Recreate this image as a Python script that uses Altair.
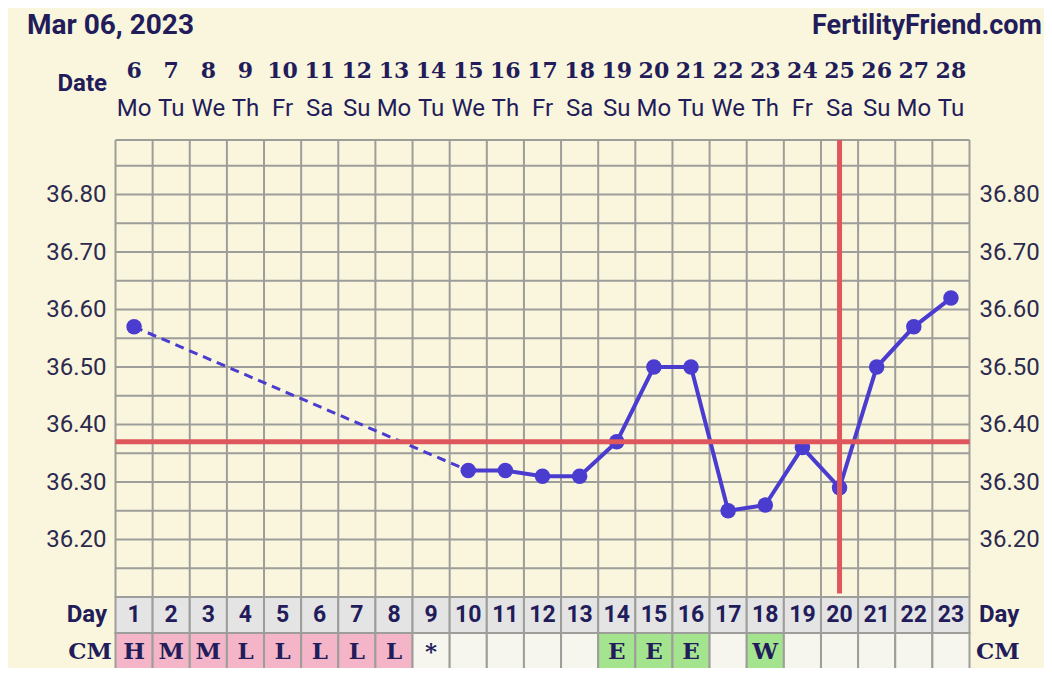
import altair as alt
import pandas as pd

# ---------------- data ----------------
cycle_days = list(range(1, 24))
dates = [6, 7, 8, 9, 10, 11, 12, 13, 14, 15, 16, 17, 18, 19, 20, 21, 22, 23, 24, 25, 26, 27, 28]
weekdays = ["Mo", "Tu", "We", "Th", "Fr", "Sa", "Su", "Mo", "Tu", "We", "Th", "Fr",
            "Sa", "Su", "Mo", "Tu", "We", "Th", "Fr", "Sa", "Su", "Mo", "Tu"]
temps = [36.57, None, None, None, None, None, None, None, None, 36.32, 36.32, 36.31,
         36.31, 36.37, 36.50, 36.50, 36.25, 36.26, 36.36, 36.29, 36.50, 36.57, 36.62]
cm_codes = ["H", "M", "M", "L", "L", "L", "L", "L", "*", "", "", "", "",
            "E", "E", "E", "", "W", "", "", "", "", ""]
coverline = 36.37
ovulation_day = 20
y_ticks = [36.20, 36.30, 36.40, 36.50, 36.60, 36.70, 36.80]
grid_levels = [36.10, 36.15, 36.20, 36.25, 36.30, 36.35, 36.40, 36.45, 36.50,
               36.55, 36.60, 36.65, 36.70, 36.75, 36.80, 36.85, 36.895]
t_min, t_max = 36.10, 36.895

# ---------------- style ----------------
W, H = 1036, 660
BG = "#faf6dd"
NAVY = "#221c5a"
LABEL = "#2c2a4e"
GRID = "#9d9d9a"
LINE = "#4a3ccf"
RED = "#de575c"

first, last = cycle_days[0], cycle_days[-1]
x_scale = alt.Scale(domain=[first - 0.5, last + 0.5], range=[107.5, 961.5], nice=False, zero=False)
t_scale = alt.Scale(domain=[t_min, t_max], range=[589, 132], nice=False, zero=False)
row_scale = alt.Scale(domain=["Day", "CM", "Extra"], range=[589, 697], paddingInner=0, paddingOuter=0)
head_scale = alt.Scale(domain=["date", "weekday"], range=[63, 101], padding=0)


def kind_of(c):
    if c in ("H", "M", "L"):
        return "pink"
    if c in ("E", "W"):
        return "green"
    return "none"


days_df = pd.DataFrame({"day": cycle_days, "date": dates, "weekday": weekdays,
                        "cm": cm_codes, "temp": temps})
days_df["x0"] = days_df["day"] - 0.5
days_df["x1"] = days_df["day"] + 0.5
days_df["kind"] = [kind_of(c) for c in cm_codes]

rec = days_df.dropna(subset=["temp"]).reset_index(drop=True)
dashed_df = rec.iloc[0:2]
solid_df = rec.iloc[1:]

hgrid_df = pd.DataFrame({"t": grid_levels, "x0": first - 0.5, "x1": last + 0.5})
bounds = [d - 0.5 for d in cycle_days] + [last + 0.5]
vgrid_df = pd.DataFrame({"x": bounds, "t0": t_min, "t1": t_max})
cover_df = pd.DataFrame({"t": [coverline], "x0": [first - 0.5], "x1": [last + 0.5]})
ov_df = pd.DataFrame({"x": [ovulation_day], "t0": [t_max], "t1": [t_min + 0.006]})

table_rows = []
for _, r in days_df.iterrows():
    table_rows.append({"day": r.day, "x0": r.x0, "x1": r.x1, "row": "Day", "kind": "day"})
    table_rows.append({"day": r.day, "x0": r.x0, "x1": r.x1, "row": "CM", "kind": r.kind})
    table_rows.append({"day": r.day, "x0": r.x0, "x1": r.x1, "row": "Extra", "kind": r.kind + "_light"})
table_df = pd.DataFrame(table_rows)

kind_domain = ["day", "pink", "green", "none", "pink_light", "green_light", "none_light"]
kind_range = ["#e4e4e4", "#f3b5c7", "#a4e48f", "#f6f6ef", "#fbe6ec", "#cdf5bd", "#f8f8f2"]


def X(f):
    return alt.X(f, scale=x_scale, axis=None)


def T(f):
    return alt.Y(f, scale=t_scale, axis=None)


# ---------------- temperature panel ----------------
hgrid = alt.Chart(hgrid_df).mark_rule(stroke=GRID, strokeWidth=2).encode(
    x=X("x0:Q"), x2="x1:Q", y=T("t:Q"))
vgrid = alt.Chart(vgrid_df).mark_rule(stroke=GRID, strokeWidth=2).encode(
    x=X("x:Q"), y=T("t0:Q"), y2="t1:Q")
dashed = alt.Chart(dashed_df).mark_line(color=LINE, strokeWidth=3, strokeDash=[9, 6]).encode(
    x=X("day:Q"), y=T("temp:Q"))
solid = alt.Chart(solid_df).mark_line(color=LINE, strokeWidth=4).encode(
    x=X("day:Q"), y=T("temp:Q"))
points = alt.Chart(rec).mark_circle(color=LINE, size=240, opacity=1).encode(
    x=X("day:Q"), y=T("temp:Q"))
cover = alt.Chart(cover_df).mark_rule(stroke=RED, strokeWidth=5).encode(
    x=X("x0:Q"), x2="x1:Q", y=T("t:Q"))
ovu = alt.Chart(ov_df).mark_rule(stroke=RED, strokeWidth=5).encode(
    x=X("x:Q"), y=T("t0:Q"), y2="t1:Q")

temp_panel = alt.layer(hgrid, vgrid, dashed, solid, points, cover, ovu)

tick_df = pd.DataFrame({"t": y_ticks})


def axis_layer(orient, offset):
    return alt.Chart(tick_df).mark_tick(opacity=0).encode(
        y=alt.Y("t:Q", scale=t_scale,
                axis=alt.Axis(values=y_ticks, format=".2f", orient=orient, offset=offset,
                              labelPadding=0, ticks=False, domain=False, grid=False,
                              labelFont="Roboto", labelFontSize=24, labelColor=LABEL,
                              title=None)))


left_axis = axis_layer("left", -98)
right_axis = axis_layer("right", 971 - W)

# ---------------- table rows ----------------
R = lambda f: alt.Y(f, scale=row_scale, axis=None)
cells = alt.Chart(table_df).mark_rect(stroke=GRID, strokeWidth=2).encode(
    x=X("x0:Q"), x2="x1:Q", y=R("row:N"),
    fill=alt.Fill("kind:N", scale=alt.Scale(domain=kind_domain, range=kind_range), legend=None))
day_nums = alt.Chart(days_df).transform_calculate(row="'Day'").mark_text(
    font="Roboto", fontWeight="bold", fontSize=23, color=NAVY, baseline="middle").encode(
    x=X("day:Q"), y=R("row:N"), text="day:Q")
cm_text = alt.Chart(days_df).transform_calculate(row="'CM'").mark_text(
    font="DejaVu Serif", fontWeight="bold", fontSize=23, color=NAVY, baseline="middle", dy=1).encode(
    x=X("day:Q"), y=R("row:N"), text="cm:N")
row_lab = pd.DataFrame({"row": ["Day"], "label": ["Day"]})
cm_lab = pd.DataFrame({"row": ["CM"], "label": ["CM"]})
day_lab_l = alt.Chart(row_lab).mark_text(font="Roboto", fontWeight="bold", fontSize=24,
                                         color=NAVY, align="right", baseline="middle").encode(
    x=alt.value(99), y=R("row:N"), text="label:N")
day_lab_r = alt.Chart(row_lab).mark_text(font="Roboto", fontWeight="bold", fontSize=24,
                                         color=NAVY, align="left", baseline="middle").encode(
    x=alt.value(971), y=R("row:N"), text="label:N")
cm_lab_l = alt.Chart(cm_lab).mark_text(font="DejaVu Serif", fontWeight="bold", fontSize=23,
                                       color=NAVY, align="right", baseline="middle", dy=1).encode(
    x=alt.value(104), y=R("row:N"), text="label:N")
cm_lab_r = alt.Chart(cm_lab).mark_text(font="DejaVu Serif", fontWeight="bold", fontSize=23,
                                       color=NAVY, align="left", baseline="middle", dy=1).encode(
    x=alt.value(968), y=R("row:N"), text="label:N")
table_panel = alt.layer(cells, day_nums, cm_text, day_lab_l, day_lab_r, cm_lab_l, cm_lab_r)

# ---------------- header ----------------
Hd = lambda f: alt.Y(f, scale=head_scale, axis=None)
date_nums = alt.Chart(days_df).transform_calculate(row="'date'").mark_text(
    font="DejaVu Serif", fontWeight="bold", fontSize=22, color=NAVY, baseline="middle").encode(
    x=X("day:Q"), y=Hd("row:N"), text="date:Q")
wk = alt.Chart(days_df).transform_calculate(row="'weekday'").mark_text(
    font="Roboto", fontSize=24, color=NAVY, baseline="middle").encode(
    x=X("day:Q"), y=Hd("row:N"), text="weekday:N")
head_panel = alt.layer(date_nums, wk)

title_df = pd.DataFrame({"t": ["Mar 06, 2023"]})
site_df = pd.DataFrame({"t": ["FertilityFriend.com"]})
date_df = pd.DataFrame({"t": ["Date"]})
title_l = alt.Chart(title_df).mark_text(font="Roboto", fontWeight="bold", fontSize=28, color=NAVY,
                                        align="left", baseline="middle").encode(
    x=alt.value(19), y=alt.value(18), text="t:N")
title_r = alt.Chart(site_df).mark_text(font="Roboto", fontWeight="bold", fontSize=27, color=NAVY,
                                       align="right", baseline="middle").encode(
    x=alt.value(W - 2), y=alt.value(18), text="t:N")
date_lab = alt.Chart(date_df).mark_text(font="Roboto", fontWeight="bold", fontSize=24, color=NAVY,
                                        align="right", baseline="middle").encode(
    x=alt.value(99), y=alt.value(76), text="t:N")

chart = alt.layer(table_panel, temp_panel, left_axis, right_axis, head_panel,
                  title_l, title_r, date_lab
                  ).resolve_scale(y="independent").properties(
    width=W, height=H, padding=0, autosize=alt.AutoSizeParams(type="none"),
    background=BG
).configure_view(strokeWidth=0)

chart.save("out.html", embed_options={"renderer": "svg", "actions": False})
